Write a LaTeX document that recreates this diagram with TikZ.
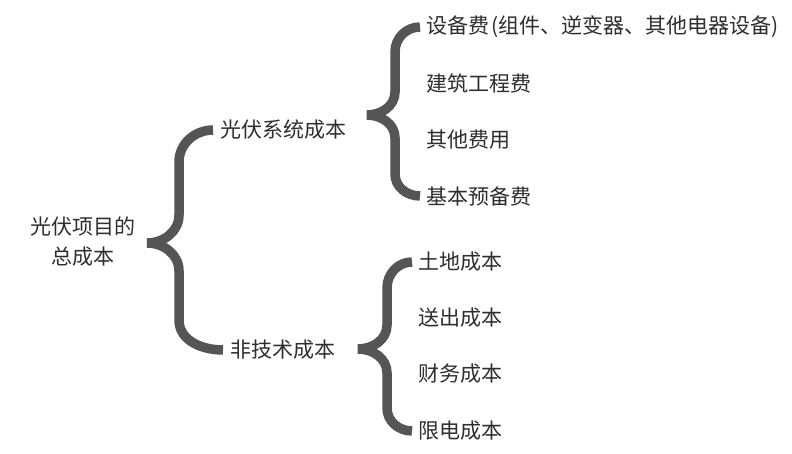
\documentclass[tikz,border=0pt]{standalone}
\usepackage{fontspec}
\setmainfont{Noto Sans CJK SC}
\usepackage{tikz}
\usetikzlibrary{calc}
\definecolor{txtgray}{HTML}{2E2E2E}
\definecolor{bracegray}{HTML}{555555}
\tikzstyle{item}=[anchor=west, inner sep=0pt, text=txtgray, font=\fontsize{21}{30}\selectfont]
\tikzstyle{root}=[inner sep=0pt, align=center, text=txtgray, font=\fontsize{21}{30}\selectfont]
\tikzstyle{brace}=[draw=bracegray, line width=9.5pt]

\begin{document}
\begin{tikzpicture}[x=1pt,y=1pt]
					\useasboundingbox[fill=white] (0,0) rectangle (792,-454);

					\node[root] (total) at (83,-242) {光伏项目的\\总成本};
					\node[item] (sys) at (220,-130) {光伏系统成本};
					\node[item] (non) at (230,-350) {非技术成本};

					\node[item] (s1) at (426,-27) {设备费\kern2pt(组件、逆变器、其他电器设备)};
					\node[item] (s2) at (426,-83.5) {建筑工程费};
					\node[item] (s3) at (426,-140) {其他费用};
					\node[item] (s4) at (426,-196) {基本预备费};

					\node[item] (n1) at (418,-262) {土地成本};
					\node[item] (n2) at (418,-318) {送出成本};
					\node[item] (n3) at (418,-374) {财务成本};
					\node[item] (n4) at (418,-431) {限电成本};

					\coordinate (b0) at (147,-243);
					\coordinate (b1) at (367,-115);
					\coordinate (b2) at (358,-349);

					\draw[brace] ([xshift=-7pt]sys.west) to[out=180,in=90] (179,-162) -- (179,-215) to[out=270,in=0] (b0)
						to[out=0,in=90] (179,-271) -- (179,-320) to[out=270,in=180] ([xshift=-7pt]non.west);
					\draw[brace] ([xshift=-6pt]s1.west) to[out=180,in=90] (395,-52) -- (395,-92) to[out=270,in=0] (b1)
						to[out=0,in=90] (395,-138) -- (395,-174) to[out=270,in=180] ([xshift=-6pt]s4.west);
					\draw[brace] ([xshift=-6pt]n1.west) to[out=180,in=90] (387,-288) -- (387,-325) to[out=270,in=0] (b2)
						to[out=0,in=90] (387,-373) -- (387,-408) to[out=270,in=180] ([xshift=-6pt]n4.west);

				\end{tikzpicture}
\end{document}
